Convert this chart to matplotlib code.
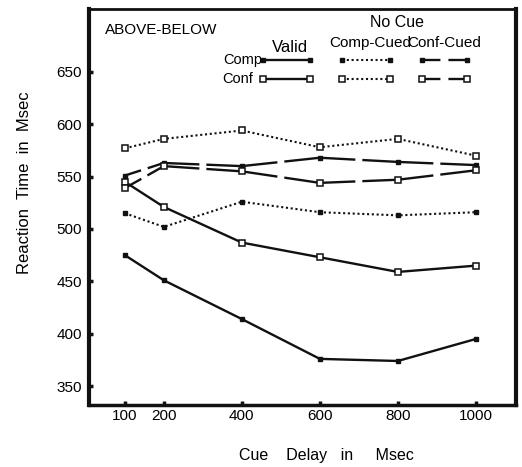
import matplotlib

matplotlib.use("Agg")
import matplotlib.pyplot as plt
import numpy as np
from matplotlib.lines import Line2D

plt.rcParams["font.family"] = ["Liberation Sans", "DejaVu Sans"]

delays = [100, 200, 400, 600, 800, 1000]

comp_valid = [475, 451, 414, 376, 374, 395]
conf_valid = [545, 521, 487, 473, 459, 465]
comp_comp_cued = [515, 502, 526, 516, 513, 516]
conf_comp_cued = [577, 586, 594, 578, 586, 570]
comp_conf_cued = [551, 563, 560, 568, 564, 561]
conf_conf_cued = [539, 560, 555, 544, 547, 556]

y_ticks = [350, 400, 450, 500, 550, 600, 650]
x_ticks = [100, 200, 400, 600, 800, 1000]

DPI = 100
INK = "#111111"
LW = 1.7
SOLID = dict(color=INK, linewidth=LW, linestyle="-")
DOTTED = dict(color=INK, linewidth=1.5, linestyle=(0, (1, 1.3)))
FILLED = dict(marker="s", markersize=3.5, markerfacecolor=INK, markeredgecolor=INK)
OPEN = dict(marker="s", markersize=5, markerfacecolor="white", markeredgecolor=INK,
            markeredgewidth=1.1)


def gapped(ax, xs, ys, transform, marker_style, gap_px=7):
    # the "Conf-Cued" curves are solid strokes broken once midway between points
    pts = transform.transform(np.column_stack([xs, ys]))
    for i in range(len(xs) - 1):
        seg_pt = np.hypot(*(pts[i + 1] - pts[i])) * 72 / DPI
        gap_pt = gap_px * 72 / DPI
        half = max((seg_pt - gap_pt) / 2, 0.1)
        ax.add_line(Line2D(xs[i:i + 2], ys[i:i + 2], transform=transform,
                           color=INK, linewidth=LW, clip_on=False,
                           linestyle=(0, (half / LW, gap_pt / LW, 1000, 1))))
    ax.add_line(Line2D(xs, ys, transform=transform, linestyle="none",
                       clip_on=False, zorder=3, **marker_style))


fig = plt.figure(figsize=(5.22, 4.67), dpi=DPI)
ax = fig.add_axes([0.1705, 0.1328, 0.818, 0.848])
ax.set_xlim(8, 1103)
ax.set_ylim(332, 710)

ax.plot(delays, comp_valid, **SOLID, **FILLED)
ax.plot(delays, conf_valid, **SOLID, **OPEN)
ax.plot(delays, comp_comp_cued, **DOTTED, **FILLED)
ax.plot(delays, conf_comp_cued, **DOTTED, **OPEN)
gapped(ax, delays, comp_conf_cued, ax.transData, FILLED)
gapped(ax, delays, conf_conf_cued, ax.transData, OPEN)

ax.set_xticks(x_ticks)
ax.set_xticklabels([str(t) for t in x_ticks], fontsize=11)
ax.set_yticks(y_ticks)
ax.set_yticklabels([str(t) for t in y_ticks], fontsize=11)
ax.tick_params(direction="in", length=3, width=2.5, color=INK)
ax.tick_params(axis="y", pad=5)
ax.tick_params(axis="x", pad=3)

for side, width in [("left", 3.0), ("bottom", 2.5), ("right", 3.0), ("top", 2.0)]:
    ax.spines[side].set_linewidth(width)
    ax.spines[side].set_color(INK)

ax.set_ylabel("Reaction  Time  in  Msec", fontsize=12)
ax.yaxis.set_label_coords(-0.134, 0.561)
ax.set_xlabel("Cue    Delay   in     Msec", fontsize=11.5)
ax.xaxis.set_label_coords(0.557, -0.108)

# hand-built legend block in the upper part of the panel
t = ax.transAxes
ax.text(0.037, 0.947, "ABOVE-BELOW", transform=t, fontsize=11, va="center")
ax.text(0.721, 0.965, "No Cue", transform=t, fontsize=11.5, ha="center", va="center")
ax.text(0.471, 0.902, "Valid", transform=t, fontsize=12, ha="center", va="center")
ax.text(0.658, 0.914, "Comp-Cued", transform=t, fontsize=11, ha="center", va="center")
ax.text(0.832, 0.914, "Conf-Cued", transform=t, fontsize=11, ha="center", va="center")
ax.text(0.405, 0.871, "Comp", transform=t, fontsize=10.5, ha="right", va="center")
ax.text(0.385, 0.823, "Conf", transform=t, fontsize=10.5, ha="right", va="center")

for y, marker_style in [(0.871, FILLED), (0.823, OPEN)]:
    for (x0, x1), line_style in [((0.408, 0.518), SOLID), ((0.593, 0.705), DOTTED)]:
        ax.add_line(Line2D([x0, x1], [y, y], transform=t, clip_on=False,
                           **line_style, **marker_style))
    gapped(ax, [0.780, 0.885], [y, y], t, marker_style, gap_px=8)

fig.savefig("out.png", dpi=DPI)
